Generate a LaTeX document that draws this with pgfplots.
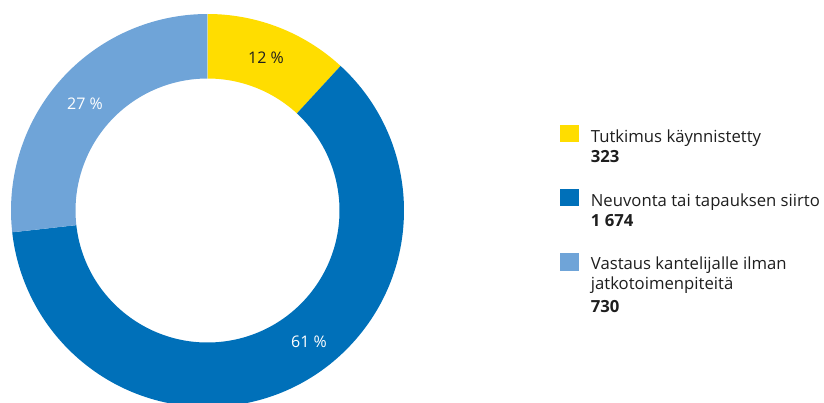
\documentclass[border=0pt]{standalone}
\usepackage{fontspec}
\setmainfont{Open Sans}
\usepackage{pgfplots}
\usepackage{pgfplotstable}
\pgfplotsset{compat=1.18}
\definecolor{cyellow}{RGB}{255,221,0}
\definecolor{cdark}{RGB}{0,112,185}
\definecolor{clight}{RGB}{111,164,216}
\definecolor{ctext}{RGB}{30,30,30}
\pgfplotstableread{
value
323
1674
730
}\donutdata
\def\R{196.5}
\def\r{132}
\def\cx{207.5}
\def\cy{192.5}% 403-210.5
\newcommand\ring[3]{%
  \fill[#3] (axis cs:\cx,\cy) ++(#1:\R bp) arc[start angle=#1,end angle=#2,radius=\R bp]
    -- ++(#2+180:\R bp-\r bp) arc[start angle=#2,end angle=#1,radius=\r bp] -- cycle;}
\begin{document}%
\begin{tikzpicture}
\pgfplotstablegetelem{0}{value}\of\donutdata \global\let\va\pgfplotsretval
\pgfplotstablegetelem{1}{value}\of\donutdata \global\let\vb\pgfplotsretval
\pgfplotstablegetelem{2}{value}\of\donutdata \global\let\vc\pgfplotsretval
\pgfmathsetmacro\total{\va+\vb+\vc}
\pgfmathsetmacro\aA{90}
\pgfmathsetmacro\aB{90-360*(\va/\total)}
\pgfmathsetmacro\aC{\aB-360*(\vb/\total)}
\pgfmathsetmacro\aD{\aC-360*(\vc/\total)}
\useasboundingbox (0,0) rectangle (824bp,403bp);
\begin{axis}[
  at={(0,0)}, anchor=origin,
  x=1bp, y=1bp, xmin=0, xmax=824, ymin=0, ymax=403,
  hide axis, clip=true,
]
\ring{\aA}{\aB}{cyellow}
\ring{\aB}{\aC}{cdark}
\ring{\aC}{\aD}{clight}
\node[anchor=base, text=ctext, font=\fontsize{16bp}{19bp}\selectfont] at (axis cs:266,403-63.3) {12 \%};
\node[anchor=base, text=white, font=\fontsize{16bp}{19bp}\selectfont] at (axis cs:85,403-109) {27 \%};
\node[anchor=base, text=white, font=\fontsize{16bp}{19bp}\selectfont] at (axis cs:309,403-347.7) {61 \%};
% legend
\fill[cyellow] (axis cs:560,403-125) rectangle (axis cs:579,403-142.5);
\fill[cdark] (axis cs:560,403-189) rectangle (axis cs:579,403-206.5);
\fill[clight] (axis cs:560,403-253.3) rectangle (axis cs:579,403-270.8);
\tikzset{lt/.style={anchor=base west, inner sep=0pt, text=ctext, font=\fontsize{16.7bp}{20bp}\selectfont},
         lb/.style={lt, font=\fontsize{16.7bp}{20bp}\selectfont\bfseries}}
\node[lt] at (axis cs:590.7,403-142.3) {Tutkimus käynnistetty};
\node[lb] at (axis cs:590.7,403-162.3) {323};
\node[lt] at (axis cs:590.7,403-206) {Neuvonta tai tapauksen siirto};
\node[lb] at (axis cs:590.7,403-226.7) {1 674};
\node[lt] at (axis cs:590.7,403-269) {Vastaus kantelijalle ilman};
\node[lt] at (axis cs:590.7,403-289) {jatkotoimenpiteitä};
\node[lb] at (axis cs:590.7,403-312) {730};
\end{axis}
\end{tikzpicture}%
\end{document}
